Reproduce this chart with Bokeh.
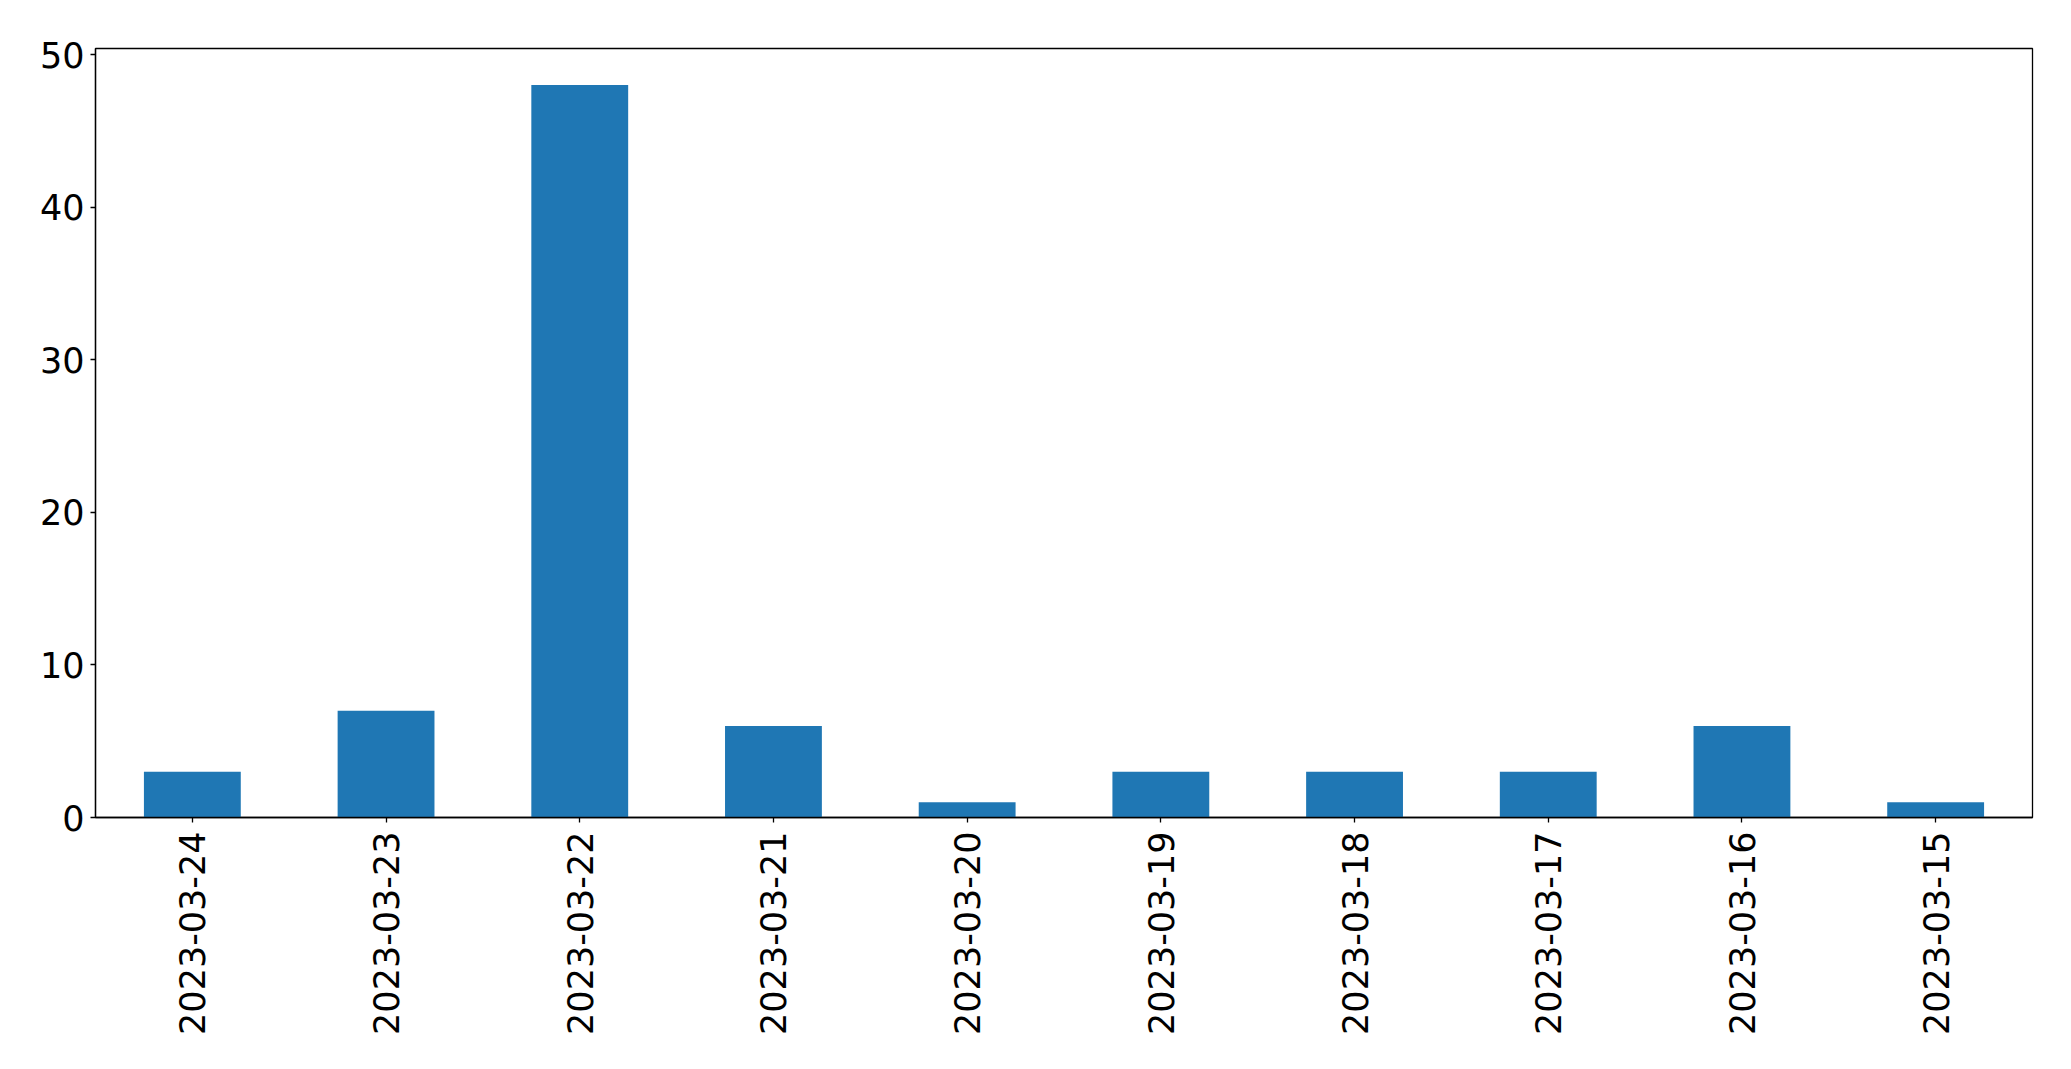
import math
from bokeh.plotting import figure
from bokeh.models import FixedTicker, Range1d, FactorRange
from bokeh.embed import file_html
from bokeh.resources import INLINE

dates = ["2023-03-24", "2023-03-23", "2023-03-22", "2023-03-21", "2023-03-20",
         "2023-03-19", "2023-03-18", "2023-03-17", "2023-03-16", "2023-03-15"]
counts = [3, 7, 48, 6, 1, 3, 3, 3, 6, 1]
y_ticks = [0, 10, 20, 30, 40, 50]

p = figure(x_range=FactorRange(*dates, range_padding=0),
           y_range=Range1d(0, 50.4),
           frame_width=1937, frame_height=769,
           min_border_left=95, min_border_top=48, min_border_right=31, min_border_bottom=236,
           output_backend="svg", toolbar_location=None)

p.vbar(x=dates, top=counts, width=0.5, color="#1f77b4", line_color=None)

p.xgrid.visible = False
p.ygrid.visible = False
p.outline_line_color = "black"
p.outline_line_width = 1.3
p.outline_line_alpha = 1.0

for ax in (p.xaxis[0], p.yaxis[0]):
    ax.major_label_text_font = "DejaVu Sans"
    ax.major_label_text_font_size = "35px"
    ax.major_label_text_color = "black"
    ax.axis_line_color = "black"
    ax.axis_line_width = 1.3
    ax.major_tick_line_color = "black"
    ax.major_tick_line_width = 1.3
    ax.major_tick_in = 0
    ax.major_tick_out = 5
    ax.minor_tick_line_color = None

p.yaxis[0].ticker = FixedTicker(ticks=y_ticks)
p.yaxis[0].major_label_standoff = 6
p.xaxis[0].major_label_orientation = math.pi / 2
p.xaxis[0].major_label_standoff = 9

open("out.html", "w").write(file_html(p, INLINE))
